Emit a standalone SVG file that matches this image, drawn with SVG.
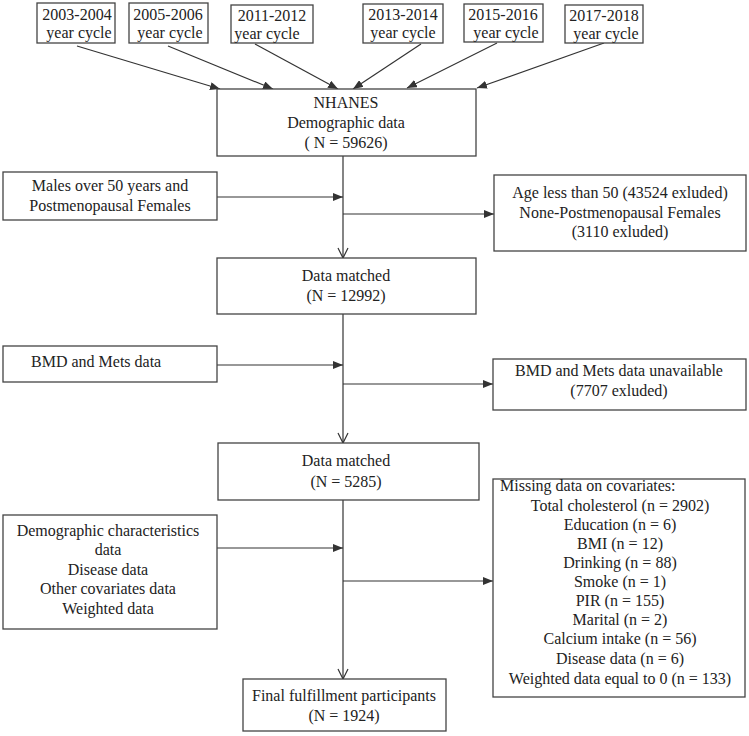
<svg xmlns="http://www.w3.org/2000/svg" width="749" height="736" viewBox="0 0 749 736">
<defs>
<marker id="tri" viewBox="0 0 10 8" refX="10" refY="4" markerWidth="10" markerHeight="8" markerUnits="userSpaceOnUse" orient="auto">
<path d="M0,0 L10,4 L0,8 Z" fill="#333"/>
</marker>
<marker id="vee" viewBox="0 0 12 12" refX="11" refY="6" markerWidth="12" markerHeight="12" markerUnits="userSpaceOnUse" orient="auto">
<path d="M1,1 L11,6 L1,11" fill="none" stroke="#333" stroke-width="1.2"/>
</marker>
</defs>
<style>
rect{fill:#fff;stroke:#444;stroke-width:1.3}
text{font-family:"Liberation Serif","Times New Roman",serif;font-size:16px;fill:#222}
.c{text-anchor:middle}
.l{stroke:#333;stroke-width:1.2;fill:none}
</style>
<rect x="0" y="0" width="749" height="736" style="stroke:none"/>
<g id="connectors">
<line class="l" x1="77" y1="46" x2="220" y2="89" marker-end="url(#tri)"/>
<line class="l" x1="168" y1="46" x2="273" y2="89" marker-end="url(#tri)"/>
<line class="l" x1="255" y1="44" x2="338" y2="89" marker-end="url(#tri)"/>
<line class="l" x1="421" y1="44" x2="353" y2="89" marker-end="url(#tri)"/>
<line class="l" x1="497" y1="43" x2="407" y2="88" marker-end="url(#tri)"/>
<line class="l" x1="604" y1="43" x2="477" y2="88" marker-end="url(#tri)"/>
<line class="l" x1="343" y1="156" x2="343" y2="258" marker-end="url(#vee)"/>
<line class="l" x1="217" y1="197" x2="343" y2="197" marker-end="url(#tri)"/>
<line class="l" x1="343" y1="214" x2="494" y2="214" marker-end="url(#tri)"/>
<line class="l" x1="343" y1="314" x2="343" y2="443" marker-end="url(#vee)"/>
<line class="l" x1="217" y1="365" x2="343" y2="365" marker-end="url(#tri)"/>
<line class="l" x1="343" y1="384" x2="493" y2="384" marker-end="url(#tri)"/>
<line class="l" x1="343" y1="500" x2="343" y2="679" marker-end="url(#vee)"/>
<line class="l" x1="217" y1="548" x2="343" y2="548" marker-end="url(#tri)"/>
<line class="l" x1="343" y1="581" x2="493" y2="581" marker-end="url(#tri)"/>
</g>
<g id="y2003"><rect x="37" y="3" width="78" height="40"/><text class="c" x="77" y="20">2003-2004</text><text class="c" x="79" y="38">year cycle</text></g>
<g id="y2005"><rect x="129" y="3" width="79" height="40"/><text class="c" x="168" y="20">2005-2006</text><text class="c" x="170" y="38">year cycle</text></g>
<g id="y2011"><rect x="231" y="5" width="82" height="38"/><text class="c" x="272" y="21">2011-2012</text><text class="c" x="267" y="39">year cycle</text></g>
<g id="y2013"><rect x="363" y="4" width="80" height="39"/><text class="c" x="403" y="20">2013-2014</text><text class="c" x="403" y="38">year cycle</text></g>
<g id="y2015"><rect x="464" y="4" width="79" height="38"/><text class="c" x="503" y="20">2015-2016</text><text class="c" x="506" y="38">year cycle</text></g>
<g id="y2017"><rect x="565" y="5" width="78" height="38"/><text class="c" x="604" y="21">2017-2018</text><text class="c" x="606" y="39">year cycle</text></g>
<g id="nhanes"><rect x="217" y="89" width="259" height="67"/><text class="c" x="346" y="108">NHANES</text><text class="c" x="346" y="128">Demographic data</text><text class="c" x="346" y="148">( N = 59626)</text></g>
<g id="males"><rect x="3" y="172" width="214" height="48"/><text class="c" x="110" y="191">Males over 50 years and</text><text class="c" x="110" y="211">Postmenopausal Females</text></g>
<g id="excl1"><rect x="494" y="175" width="252" height="76"/><text class="c" x="620" y="198">Age less than 50 (43524 exluded)</text><text class="c" x="620" y="218">None-Postmenopausal Females</text><text class="c" x="620" y="237">(3110 exluded)</text></g>
<g id="matched1"><rect x="217" y="258" width="259" height="56"/><text class="c" x="346" y="281">Data matched</text><text class="c" x="346" y="301">(N = 12992)</text></g>
<g id="bmd"><rect x="3" y="346" width="214" height="36"/><text x="31" y="367">BMD and Mets data</text></g>
<g id="excl2"><rect x="493" y="359" width="253" height="51"/><text class="c" x="619" y="376">BMD and Mets data unavailable</text><text class="c" x="619" y="396">(7707 exluded)</text></g>
<g id="matched2"><rect x="218" y="443" width="261" height="57"/><text class="c" x="346" y="466">Data matched</text><text class="c" x="346" y="487">(N = 5285)</text></g>
<g id="demo"><rect x="3" y="515" width="214" height="114"/><text class="c" x="108" y="536">Demographic characteristics</text><text class="c" x="108" y="555">data</text><text class="c" x="108" y="575">Disease data</text><text class="c" x="108" y="594">Other covariates data</text><text class="c" x="108" y="614">Weighted data</text></g>
<g id="missing"><rect x="493" y="479" width="252" height="218"/><text x="500" y="491">Missing data on covariates:</text><text class="c" x="620" y="511">Total cholesterol (n = 2902)</text><text class="c" x="620" y="530">Education (n = 6)</text><text class="c" x="620" y="549">BMI (n = 12)</text><text class="c" x="620" y="568">Drinking (n = 88)</text><text class="c" x="620" y="587">Smoke (n = 1)</text><text class="c" x="620" y="606">PIR (n = 155)</text><text class="c" x="620" y="625">Marital (n = 2)</text><text class="c" x="620" y="644">Calcium intake (n = 56)</text><text class="c" x="620" y="664">Disease data (n = 6)</text><text class="c" x="620" y="684">Weighted data equal to 0 (n = 133)</text></g>
<g id="final"><rect x="243" y="679" width="203" height="52"/><text class="c" x="344" y="701">Final fulfillment participants</text><text class="c" x="344" y="721">(N = 1924)</text></g>
</svg>
